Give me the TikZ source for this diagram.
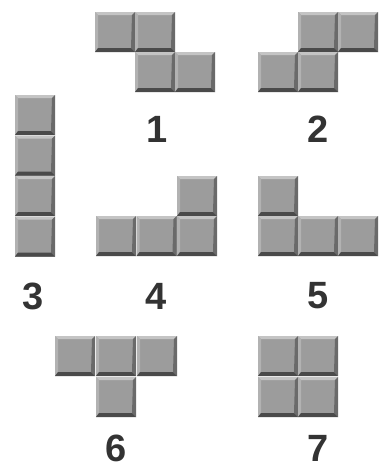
\documentclass[tikz,border=0pt]{standalone}
\usepackage{fontspec}
\setmainfont{Liberation Sans}
\definecolor{face}{HTML}{9C9C9C}
\definecolor{btop}{HTML}{C4C4C4}
\definecolor{bleft}{HTML}{B2B2B2}
\definecolor{bright}{HTML}{6A6A6A}
\definecolor{bbot}{HTML}{4A4A4A}
\definecolor{lbl}{HTML}{333333}
\newcommand\tblk[2]{%
  \begin{scope}[shift={(#1,#2)}]
    \fill[face] (0,0) rectangle (40,40);
    \fill[btop] (0,0) -- (40,0) -- (37,3) -- (3,3) -- cycle;
    \fill[bleft] (0,0) -- (3,3) -- (3,36) -- (0,40) -- cycle;
    \fill[bright] (40,0) -- (40,40) -- (36,36) -- (37,3) -- cycle;
    \fill[bbot] (0,40) -- (40,40) -- (36,36) -- (3,36) -- cycle;
  \end{scope}}
\tikzset{lab/.style={font=\bfseries\fontsize{38}{38}\selectfont, text=lbl, inner sep=0pt, anchor=center}}
\begin{document}
\begin{tikzpicture}[x=1pt,y=-1pt]
\useasboundingbox (0,0) rectangle (387,469);
% piece 1
\tblk{95}{12}\tblk{135}{12}\tblk{135}{52}\tblk{175}{52}
% piece 2
\tblk{298}{12}\tblk{338}{12}\tblk{258}{52}\tblk{298}{52}
% piece 3
\tblk{15}{95}\tblk{15}{135.5}\tblk{15}{176}\tblk{15}{216.5}
% piece 4
\tblk{177}{176}\tblk{96}{216}\tblk{136.5}{216}\tblk{177}{216}
% piece 5
\tblk{258}{176}\tblk{258}{216}\tblk{298}{216}\tblk{338}{216}
% piece 6
\tblk{55}{336}\tblk{96}{336}\tblk{137}{336}\tblk{96}{377}
% piece 7
\tblk{258}{336}\tblk{298}{336}\tblk{258}{377}\tblk{298}{377}
% labels
\node[lab] (l1) at (157,129) {1};
\node[lab] (l2) at (318,129) {2};
\node[lab] (l3) at (33,296) {3};
\node[lab] (l4) at (156,296) {4};
\node[lab] (l5) at (318,296) {5};
\node[lab] (l6) at (116,448) {6};
\node[lab] (l7) at (318,448) {7};
\end{tikzpicture}
\end{document}
